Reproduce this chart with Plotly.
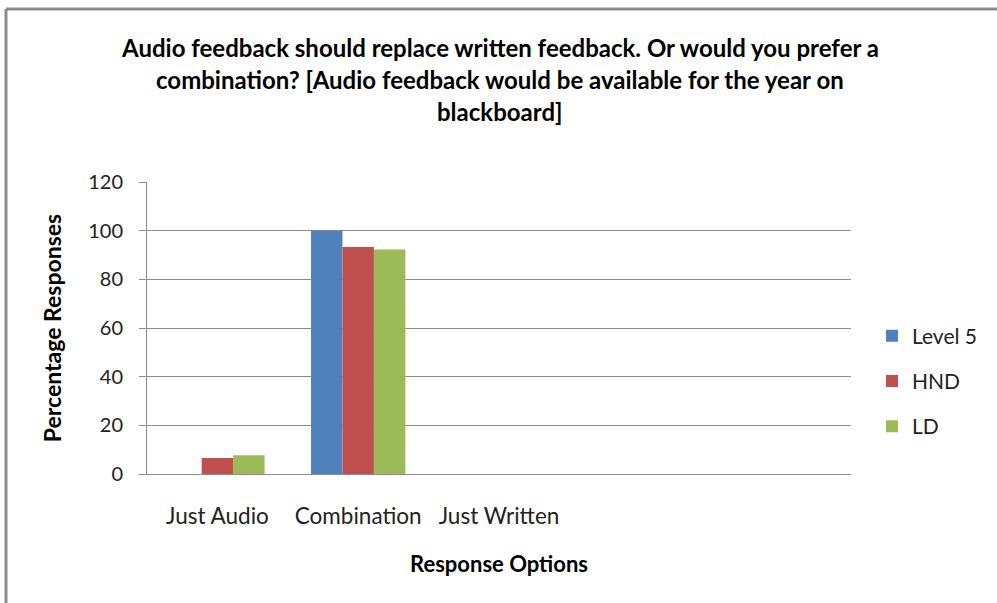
import plotly.graph_objects as go

categories = ["Just Audio", "Combination", "Just Written", "", ""]
series_names = ["Level 5", "HND", "LD"]
level5 = [0, 100, 0, None, None]
hnd = [6.6, 93.3, 0, None, None]
ld = [7.7, 92.3, 0, None, None]
colors = ["#4F81BD", "#C0504D", "#9BBB59"]

title_lines = [
    "Audio feedback should replace written feedback. Or would you prefer a",
    "combination? [Audio feedback would be available for the year on",
    "blackboard]",
]

FONT = "Lato"
W, H = 997, 603
PL, PR, PT, PB = 147, 851, 182, 474  # plot area in page pixels
L, T = PL, PT
pw, ph = PR - PL, PB - PT
R, B = W - L - pw, H - T - ph

xs = list(range(len(categories)))
fig = go.Figure()
for name, vals, col in zip(series_names, [level5, hnd, ld], colors):
    fig.add_trace(go.Bar(x=xs, y=vals, name=name, marker=dict(color=col, line=dict(width=0)),
                         legendgroup=name))

def px_x(x):  # page px -> paper
    return (x - PL) / pw

def px_y(y):
    return (PB - y) / ph

annotations = []
for line, yy in zip(title_lines, [47, 80, 112]):
    annotations.append(dict(text="<b>" + line + "</b>", x=px_x(500), xref="paper", y=px_y(yy), yref="paper",
                            xanchor="center", yanchor="middle", showarrow=False,
                            font=dict(family=FONT, size=24, color="#000")))

fig.update_layout(
    width=W, height=H,
    margin=dict(l=L, r=R, t=T, b=B),
    paper_bgcolor="white", plot_bgcolor="white",
    barmode="group", bargap=0.33, bargroupgap=0,
    font=dict(family=FONT, size=18, color="#222"),
    annotations=annotations,
    showlegend=True,
    legend=dict(x=px_x(872), xanchor="left", y=px_y(381), yanchor="middle",
                font=dict(family=FONT, size=21, color="#222"), tracegroupgap=15,
                traceorder="grouped", bgcolor="rgba(0,0,0,0)"),
    xaxis=dict(range=[-0.5, 4.5], tickvals=xs, ticktext=categories, showgrid=False,
               showline=True, linecolor="#8c8c8c", linewidth=1, ticks="",
               ticklabelstandoff=22, tickfont=dict(family=FONT, size=22.5, color="#222"),
               title=dict(text="<b>Response Options</b>", standoff=28,
                          font=dict(family=FONT, size=22, color="#000")),
               zeroline=False, fixedrange=True),
    yaxis=dict(range=[0, 120], dtick=20, showgrid=True, gridcolor="#8c8c8c", gridwidth=1,
               showline=True, linecolor="#8c8c8c", linewidth=1, ticks="outside", ticklen=7,
               tickcolor="#8c8c8c", ticklabelstandoff=12, zeroline=False,
               tickfont=dict(family=FONT, size=20, color="#222"),
               title=dict(text="<b>Percentage Responses</b>", standoff=20,
                          font=dict(family=FONT, size=23, color="#000")),
               fixedrange=True),
    shapes=[
        dict(type="line", xref="paper", yref="paper", x0=px_x(6), x1=px_x(1000), y0=px_y(9), y1=px_y(9),
             line=dict(color="#8c8c8c", width=3)),
        dict(type="line", xref="paper", yref="paper", x0=px_x(6), x1=px_x(6), y0=px_y(9), y1=px_y(610),
             line=dict(color="#8c8c8c", width=3)),
    ],
)

fig.write_html("out.html", config={"displayModeBar": False},
               post_script="document.body.style.margin='0';document.body.style.overflow='hidden';")
